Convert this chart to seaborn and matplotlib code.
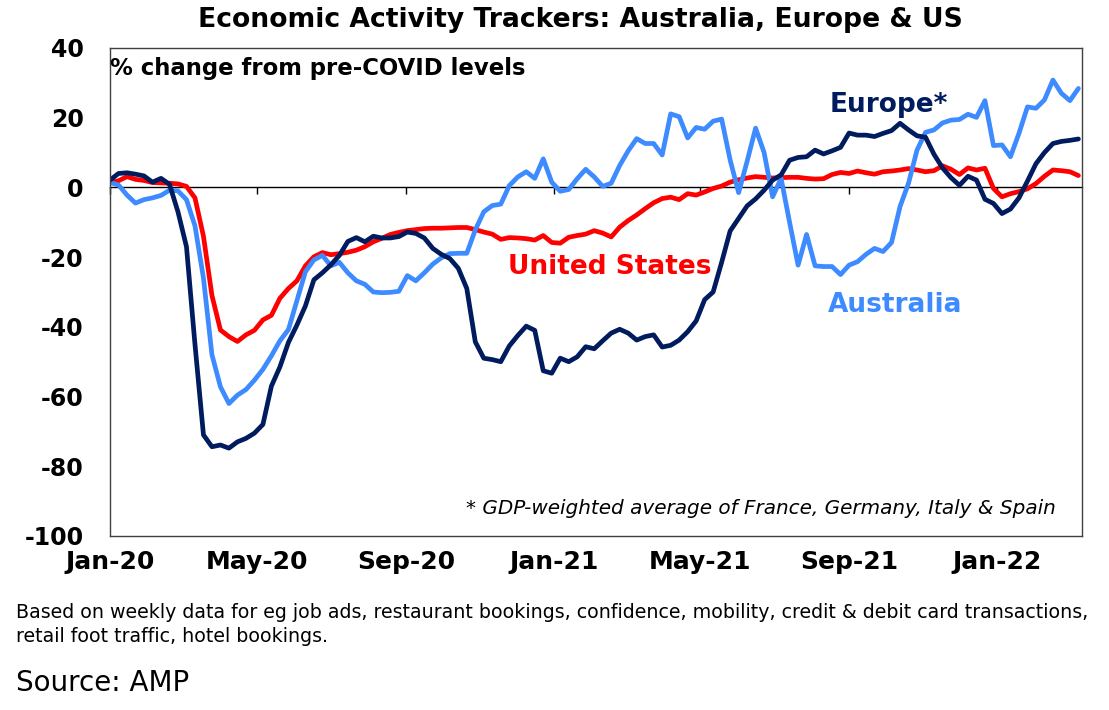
import numpy as np
import pandas as pd
import matplotlib
matplotlib.use("Agg")
import matplotlib.pyplot as plt
import matplotlib.dates as mdates
import seaborn as sns

# === Data: weekly readings, % change from pre-COVID levels ===
weeks = pd.date_range("2020-01-01", periods=115, freq="7D")

australia = [
    1.4, 0.7, -2.2, -4.5, -3.5, -3.0, -2.3, -0.8, -1.0, -3.5,
    -11.0, -26.0, -48.0, -57.2, -62.0, -59.6, -58.0, -55.3, -52.2, -48.3,
    -44.0, -40.8, -32.5, -24.2, -20.8, -19.5, -22.5, -21.5, -24.5, -26.8,
    -27.8, -30.0, -30.2, -30.1, -29.8, -25.3, -26.8, -24.5, -22.0, -20.2,
    -19.0, -18.9, -18.9, -12.2, -7.0, -5.2, -4.8, 0.5, 3.0, 4.5,
    2.6, 8.2, 1.5, -1.1, -0.6, 2.5, 5.2, 3.0, 0.3, 1.2,
    6.3, 10.5, 14.0, 12.6, 12.6, 9.3, 21.1, 20.3, 14.2, 17.2,
    16.7, 19.0, 19.6, 7.9, -1.5, 7.5, 17.0, 10.0, -2.7, 2.6,
    -10.0, -22.3, -13.5, -22.5, -22.7, -22.7, -25.0, -22.3, -21.3, -19.2,
    -17.5, -18.4, -15.8, -5.5, 1.2, 10.7, 15.8, 16.5, 18.5, 19.3,
    19.5, 21.0, 20.1, 24.9, 12.0, 12.2, 8.8, 15.5, 23.1, 22.7,
    25.1, 30.8, 27.0, 24.9, 28.4,
]

europe = [
    2.1, 4.0, 4.2, 3.8, 3.3, 1.5, 2.6, 0.9, -7.0, -17.0,
    -45.0, -71.0, -74.4, -73.9, -74.8, -73.0, -72.0, -70.5, -68.0, -57.0,
    -51.5, -44.5, -39.5, -34.0, -26.5, -24.5, -22.2, -19.5, -15.5, -14.4,
    -15.6, -14.0, -14.5, -14.5, -14.1, -12.8, -13.2, -14.5, -17.5, -19.2,
    -20.4, -23.2, -29.0, -44.3, -49.0, -49.4, -50.0, -45.5, -42.5, -39.8,
    -41.0, -52.6, -53.3, -49.0, -50.0, -48.6, -45.7, -46.3, -44.0, -41.8,
    -40.7, -41.8, -43.8, -42.8, -42.3, -45.8, -45.3, -43.8, -41.4, -38.3,
    -32.2, -30.0, -21.5, -12.5, -8.9, -5.3, -3.3, -0.8, 2.1, 3.6,
    7.8, 8.6, 8.8, 10.7, 9.6, 10.5, 11.5, 15.6, 15.0, 15.0,
    14.6, 15.5, 16.3, 18.4, 16.5, 14.8, 14.4, 9.5, 5.6, 2.8,
    0.6, 3.2, 2.1, -3.4, -4.6, -7.5, -6.2, -3.0, 1.8, 6.8,
    10.0, 12.6, 13.2, 13.5, 13.9,
]

united_states = [
    1.4, 1.9, 3.1, 2.3, 2.0, 1.4, 1.3, 1.2, 1.0, 0.3,
    -3.0, -14.0, -31.0, -40.9, -42.8, -44.2, -42.3, -41.0, -38.0, -36.7,
    -31.8, -29.0, -26.8, -22.5, -19.9, -18.7, -19.3, -19.0, -18.6, -18.0,
    -17.0, -15.6, -14.6, -13.5, -12.9, -12.4, -12.1, -11.8, -11.7, -11.7,
    -11.6, -11.5, -11.5, -12.1, -12.8, -13.4, -14.9, -14.4, -14.5, -14.7,
    -15.1, -13.8, -15.8, -16.0, -14.3, -13.8, -13.4, -12.4, -13.1, -14.2,
    -11.4, -9.5, -7.9, -6.1, -4.4, -3.2, -2.8, -3.5, -1.8, -2.2,
    -1.3, -0.3, 0.4, 1.5, 2.2, 2.7, 3.1, 2.9, 2.7, 2.8,
    2.9, 2.9, 2.6, 2.4, 2.5, 3.7, 4.3, 4.0, 4.7, 4.2,
    3.8, 4.5, 4.7, 5.0, 5.4, 5.0, 4.5, 4.8, 6.2, 5.2,
    3.7, 5.6, 5.0, 5.5, -0.3, -2.7, -1.8, -1.2, -0.4, 1.1,
    3.2, 5.0, 4.8, 4.5, 3.4,
]

series_names = ["United States", "Australia", "Europe"]
colors = {"United States": "#ff0000", "Australia": "#3d8bff", "Europe": "#001c5e"}

tick_dates = pd.to_datetime(["2020-01-01", "2020-05-01", "2020-09-01", "2021-01-01",
                             "2021-05-01", "2021-09-01", "2022-01-01"])
y_ticks = [40, 20, 0, -20, -40, -60, -80, -100]

# === Long table for seaborn ===
df = pd.DataFrame({
    "week": np.tile(weeks, 3),
    "value": united_states + australia + europe,
    "series": np.repeat(series_names, len(weeks)),
})

sns.set_theme(style="white")
plt.rcParams["font.family"] = ["DejaVu Sans"]
plt.rcParams["axes.unicode_minus"] = False
plt.rcParams["text.color"] = "black"
plt.rcParams["xtick.color"] = "black"
plt.rcParams["ytick.color"] = "black"

fig = plt.figure(figsize=(11.09, 7.10), dpi=100)
ax = fig.add_axes([0.0992, 0.2451, 0.8765, 0.6873])

sns.lineplot(data=df, x="week", y="value", hue="series", hue_order=series_names,
             palette=colors, linewidth=3.4, legend=False, ax=ax)

ax.set_xlim(pd.Timestamp("2020-01-01"), pd.Timestamp("2022-03-12"))
ax.set_ylim(-100, 40)
ax.set_yticks(y_ticks)
ax.set_xticks(tick_dates)
ax.xaxis.set_major_formatter(mdates.DateFormatter("%b-%y"))
ax.set_xlabel("")
ax.set_ylabel("")
ax.tick_params(axis="both", length=0)
ax.tick_params(axis="x", pad=10, labelsize=18)
ax.tick_params(axis="y", pad=19, labelsize=17)
for lab in ax.get_xticklabels() + ax.get_yticklabels():
    lab.set_fontweight("bold")
for sp in ax.spines.values():
    sp.set_color("#404040")
    sp.set_linewidth(1.0)

# zero line with its small tick marks
zero_pos = (0 - (-100)) / (40 - (-100))
sec = ax.secondary_xaxis(zero_pos)
sec.set_xticks(tick_dates)
sec.tick_params(direction="in", length=5, width=1, color="black", labeltop=False, labelbottom=False)
for sp in sec.spines.values():
    sp.set_color("black")
    sp.set_linewidth(1.0)

# === Labels ===
ax.text(0.0, 0.959, "% change from pre-COVID levels", transform=ax.transAxes,
        ha="left", va="center", fontsize=16.4, fontweight="bold")
ax.text(0.801, 0.883, "Europe*", transform=ax.transAxes, ha="center", va="center",
        fontsize=19, fontweight="bold", color=colors["Europe"])
ax.text(0.514, 0.551, "United States", transform=ax.transAxes, ha="center", va="center",
        fontsize=19, fontweight="bold", color=colors["United States"])
ax.text(0.808, 0.473, "Australia", transform=ax.transAxes, ha="center", va="center",
        fontsize=19, fontweight="bold", color=colors["Australia"])
ax.text(0.973, 0.057, "* GDP-weighted average of France, Germany, Italy & Spain",
        transform=ax.transAxes, ha="right", va="center", fontsize=14.4, style="italic")

fig.text(0.523, 0.972, "Economic Activity Trackers: Australia, Europe & US",
         ha="center", va="center", fontsize=19.2, fontweight="bold")
fig.text(0.0144, 0.138, "Based on weekly data for eg job ads, restaurant bookings, confidence, "
         "mobility, credit & debit card transactions,", ha="left", va="center", fontsize=13.7)
fig.text(0.0144, 0.103, "retail foot traffic, hotel bookings.", ha="left", va="center", fontsize=13.7)
fig.text(0.0144, 0.038, "Source: AMP", ha="left", va="center", fontsize=20)

fig.savefig("out.png", dpi=100)
